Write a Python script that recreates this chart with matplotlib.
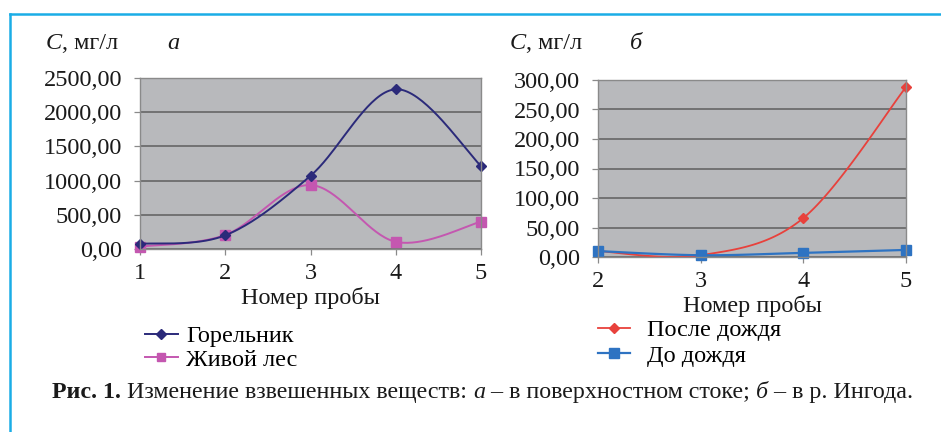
import numpy as np
import matplotlib
matplotlib.use("Agg")
import matplotlib.pyplot as plt
from matplotlib.lines import Line2D
from matplotlib.text import Annotation
from matplotlib.ticker import FixedLocator, FixedFormatter

plt.rcParams['font.family'] = ['Liberation Serif', 'DejaVu Serif']

# --- data -------------------------------------------------------------
samples_a = [1, 2, 3, 4, 5]
gorelnik = [75, 200, 1070, 2335, 1215]          # Горельник
zhivoy_les = [35, 205, 935, 105, 400]           # Живой лес
yticks_a = [0, 500, 1000, 1500, 2000, 2500]
ylabels_a = ["0,00", "500,00", "1000,00", "1500,00", "2000,00", "2500,00"]

samples_b = [2, 3, 4, 5]
posle_dozhdya = [10, 3, 66, 288]                # После дождя
do_dozhdya = [10, 3, 7, 12]                     # До дождя
yticks_b = [0, 50, 100, 150, 200, 250, 300]
ylabels_b = ["0,00", "50,00", "100,00", "150,00", "200,00", "250,00", "300,00"]

W, H = 941, 432
FS = 17.5
INK = '#1A1A1A'


def smooth(x, y, n=40):
    """Bezier smoothing through every point (spreadsheet-style smoothed line)."""
    P = np.column_stack([np.asarray(x, float), np.asarray(y, float)])
    Q = np.vstack([P[:1], P, P[-1:]])
    t = np.linspace(0, 1, n)[:, None]
    segs = []
    for i in range(len(P) - 1):
        p0, p3 = Q[i + 1], Q[i + 2]
        c1 = p0 + (Q[i + 2] - Q[i]) / 6.0
        c2 = p3 - (Q[i + 3] - Q[i + 1]) / 6.0
        seg = ((1 - t) ** 3) * p0 + 3 * ((1 - t) ** 2) * t * c1 \
            + 3 * (1 - t) * t ** 2 * c2 + t ** 3 * p3
        segs.append(seg if i == 0 else seg[1:])
    S = np.vstack(segs)
    return S[:, 0], S[:, 1]


def px_rect(left, top, right, bottom):
    return [left / W, 1 - bottom / H, (right - left) / W, (bottom - top) / H]


fig = plt.figure(figsize=(W / 100, H / 100), dpi=100)
fig.patch.set_facecolor('white')

# frame lines
fig.add_artist(Line2D([10 / W, 1], [1 - 14 / H, 1 - 14 / H], color='#1AADE6', lw=1.8,
                      transform=fig.transFigure))
fig.add_artist(Line2D([10 / W, 10 / W], [1 - 14 / H, 0], color='#1AADE6', lw=1.8,
                      transform=fig.transFigure))

BG = '#B8B9BC'
GRID = '#666666'


def style_axes(ax, xs, yticks, ylabels):
    ax.set_facecolor(BG)
    ax.set_xlim(xs[0], xs[-1])
    ax.set_ylim(yticks[0], yticks[-1])
    ax.yaxis.set_major_locator(FixedLocator(yticks))
    ax.yaxis.set_major_formatter(FixedFormatter(ylabels))
    ax.set_xticks(xs)
    ax.set_xticklabels([str(v) for v in xs])
    ax.grid(axis='y', color=GRID, lw=1.2)
    ax.set_axisbelow(True)
    for s in ax.spines.values():
        s.set_color('#8A8A8A')
        s.set_linewidth(1.0)
    ax.tick_params(axis='both', length=4, width=0.9, color='#8A8A8A',
                   labelsize=FS, labelcolor=INK)
    ax.tick_params(axis='y', pad=9)
    ax.tick_params(axis='x', pad=6)
    ax.set_xlabel("Номер пробы", fontsize=FS, color=INK, labelpad=2)


# --- panel а ----------------------------------------------------------
ax1 = fig.add_axes(px_rect(140, 78, 481, 249))
style_axes(ax1, samples_a, yticks_a, ylabels_a)
c_gor = '#2B2A7A'
c_zl = '#C457B0'
sx, sy = smooth(samples_a, zhivoy_les)
ax1.plot(sx, sy, color=c_zl, lw=1.4, clip_on=False)
ax1.plot(samples_a, zhivoy_les, ls='none', marker='s', ms=7, color=c_zl, clip_on=False)
sx, sy = smooth(samples_a, gorelnik)
ax1.plot(sx, sy, color=c_gor, lw=1.4, clip_on=False)
ax1.plot(samples_a, gorelnik, ls='none', marker='D', ms=5, color=c_gor, clip_on=False)

h1 = [Line2D([], [], color=c_gor, lw=1.4, marker='D', ms=5),
      Line2D([], [], color=c_zl, lw=1.4, marker='s', ms=6)]
fig.legend(h1, ["Горельник", "Живой лес"], loc='upper left',
           bbox_to_anchor=(145 / W, 1 - 325 / H), bbox_transform=fig.transFigure,
           frameon=False, fontsize=FS, handlelength=1.35, handletextpad=0.35,
           labelspacing=0.08, borderpad=0, borderaxespad=0)

# --- panel б ----------------------------------------------------------
ax2 = fig.add_axes(px_rect(598, 80, 906, 257))
style_axes(ax2, samples_b, yticks_b, ylabels_b)
c_after = '#E8413C'
c_before = '#2E73C2'
sx, sy = smooth(samples_b, posle_dozhdya)
ax2.plot(sx, sy, color=c_after, lw=1.3, clip_on=False)
ax2.plot(samples_b, posle_dozhdya, ls='none', marker='D', ms=5, color=c_after, clip_on=False)
sx, sy = smooth(samples_b, do_dozhdya)
ax2.plot(sx, sy, color=c_before, lw=1.6, clip_on=False)
ax2.plot(samples_b, do_dozhdya, ls='none', marker='s', ms=7, color=c_before, clip_on=False)

h2 = [Line2D([], [], color=c_after, lw=1.3, marker='D', ms=5),
      Line2D([], [], color=c_before, lw=1.6, marker='s', ms=7)]
fig.legend(h2, ["После дождя", "До дождя"], loc='upper left',
           bbox_to_anchor=(598 / W, 1 - 319 / H), bbox_transform=fig.transFigure,
           frameon=False, fontsize=FS, handlelength=1.3, handletextpad=0.7,
           labelspacing=0.15, borderpad=0, borderaxespad=0)


# --- headings and caption (text pieces sharing one baseline) ------------
def chain_text(pieces, x, y, fontsize=FS):
    prev = fig.text(x / W, 1 - y / H, pieces[0][0], ha='left', va='baseline',
                    fontsize=fontsize, color=INK, **pieces[0][1])
    for s, style in pieces[1:]:
        prev = fig.add_artist(Annotation(
            s, xy=(1, 0), xycoords=prev, ha='left', va='bottom',
            fontsize=fontsize, color=INK, **style))
    return prev


IT = {'style': 'italic'}
RG = {}
BD = {'weight': 'bold'}

chain_text([("C", IT), (", мг/л", RG)], 46, 49)
fig.text(167 / W, 1 - 49 / H, "а", style='italic', fontsize=FS, color=INK)
chain_text([("C", IT), (", мг/л", RG)], 510, 49)
fig.text(630 / W, 1 - 49 / H, "б", style='italic', fontsize=FS, color=INK)

chain_text([("Рис. 1.", BD),
            (" Изменение взвешенных веществ: ", RG),
            ("а", IT),
            (" – в поверхностном стоке; ", RG),
            ("б", IT),
            (" – в р. Ингода.", RG)], 52, 398, fontsize=17.3)

fig.savefig("out.png", dpi=100, facecolor='white')
